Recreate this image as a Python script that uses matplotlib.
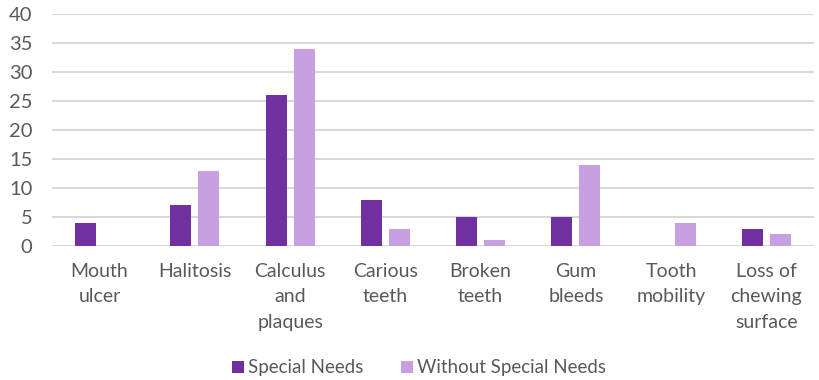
import matplotlib
matplotlib.use("Agg")
import matplotlib.pyplot as plt
import numpy as np

categories = ["Mouth\nulcer", "Halitosis", "Calculus\nand\nplaques", "Carious\nteeth",
              "Broken\nteeth", "Gum\nbleeds", "Tooth\nmobility", "Loss of\nchewing\nsurface"]
special_needs = [4, 7, 26, 8, 5, 5, 0, 3]
without_special_needs = [0, 13, 34, 3, 1, 14, 4, 2]
y_ticks = [0, 5, 10, 15, 20, 25, 30, 35, 40]

plt.rcParams['font.family'] = ['Lato', 'DejaVu Sans']
text_color = '#595959'

fig = plt.figure(figsize=(8.19, 3.80), dpi=100)
ax = fig.add_axes([52/819, 1-246/380, (814-52)/819, (246-14)/380])

x = np.arange(len(categories))
w = 0.22
off = 0.147
ax.bar(x - off, special_needs, w, color='#7030A0', label='Special Needs', zorder=3)
ax.bar(x + off, without_special_needs, w, color='#C89FE0', label='Without Special Needs', zorder=3)

ax.set_xlim(-0.5, len(categories) - 0.5)
ax.set_ylim(0, 40)
ax.set_yticks(y_ticks)
ax.set_xticks(x)
ax.set_xticklabels(categories, fontsize=14, color=text_color, linespacing=1.62)
ax.tick_params(axis='y', labelsize=14.5, colors=text_color, length=0, pad=14)
ax.tick_params(axis='x', length=0, pad=12)
ax.grid(axis='y', color='#D9D9D9', linewidth=1.5, zorder=0)
for s in ax.spines.values():
    s.set_visible(False)

leg = fig.legend(loc='center', bbox_to_anchor=(0.512, 1-368/380), ncol=2, frameon=False,
                 fontsize=13.5, handlelength=0.6, handleheight=0.6, handletextpad=0.25,
                 columnspacing=2.0)
for t in leg.get_texts():
    t.set_color(text_color)

fig.savefig("out.png", dpi=100)
